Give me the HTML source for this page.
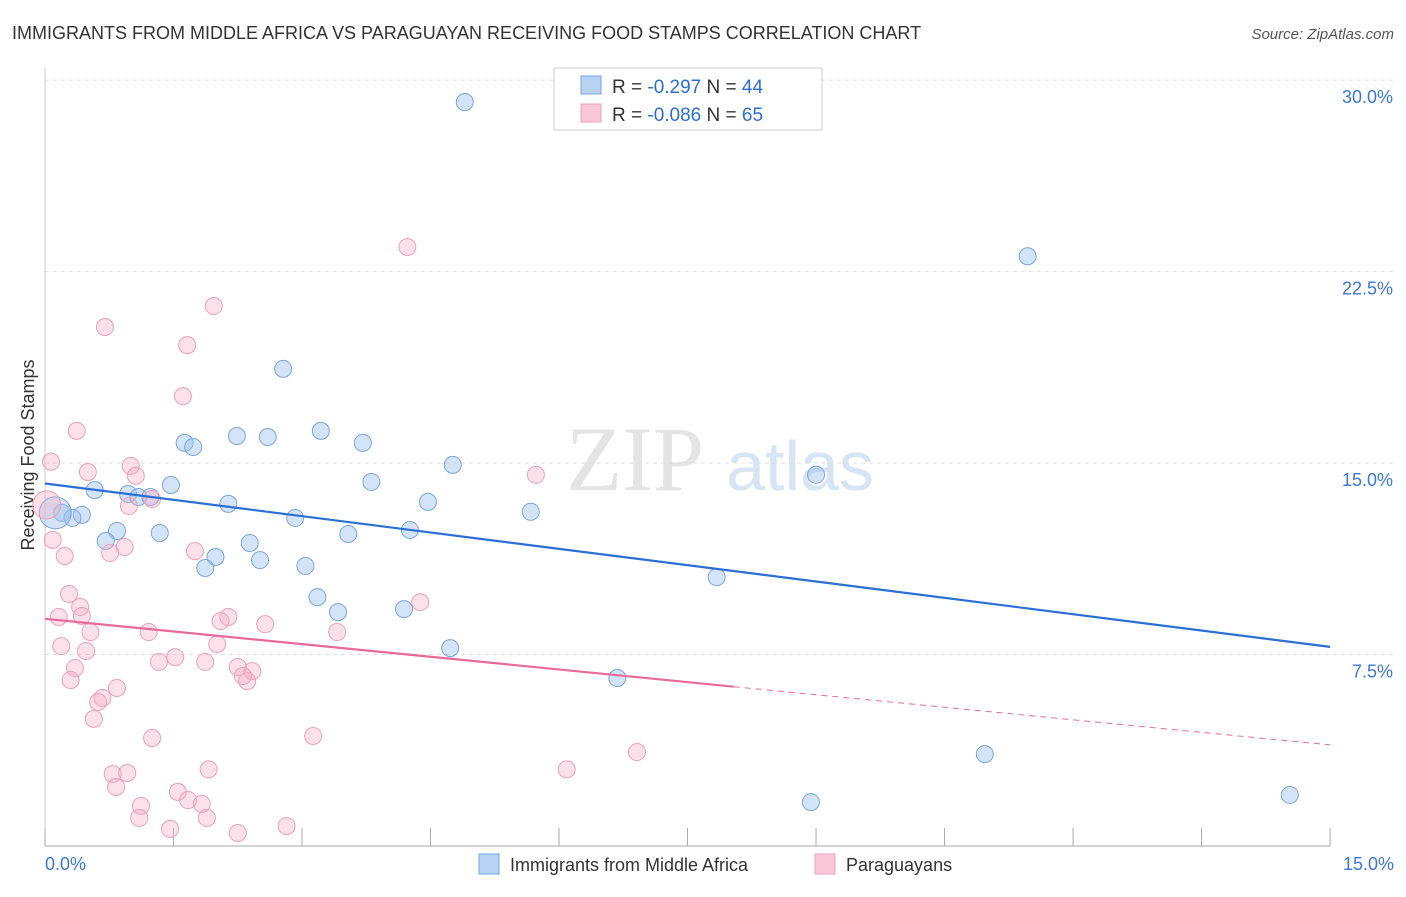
<!DOCTYPE html>
<html><head><meta charset="utf-8"><style>
body{margin:0;background:#fff;font-family:"Liberation Sans",sans-serif}
</style></head><body>
<svg id="c" width="1406" height="892" xmlns="http://www.w3.org/2000/svg">
<text x="12" y="39" font-size="18" fill="#333">IMMIGRANTS FROM MIDDLE AFRICA VS PARAGUAYAN RECEIVING FOOD STAMPS CORRELATION CHART</text>
<text x="1394" y="39" font-size="15" fill="#555" font-style="italic" text-anchor="end">Source: ZipAtlas.com</text>
<text x="635" y="490" font-size="92" fill="#e4e4e4" font-family="Liberation Serif,serif" text-anchor="middle">ZIP</text>
<text x="800" y="490" font-size="70" fill="#d6e4f4" text-anchor="middle">atlas</text>
<text transform="translate(34,455) rotate(-90)" font-size="18" fill="#333" text-anchor="middle">Receiving Food Stamps</text>
<g id="grid"></g><g id="marks"></g>
<rect x="554" y="68" width="268" height="62" fill="#fff" stroke="#ccc"/>
<rect x="581" y="76" width="20" height="18" fill="#b8d2f4" stroke="#7aa6e0"/>
<rect x="581" y="104" width="20" height="18" fill="#f9c8d8" stroke="#eea0b8"/>
<text x="612" y="93" font-size="19" fill="#333">R = <tspan fill="#2b6fd6">-0.297</tspan>   N = <tspan fill="#2b6fd6">44</tspan></text>
<text x="612" y="121" font-size="19" fill="#333">R = <tspan fill="#2b6fd6">-0.086</tspan>   N = <tspan fill="#2b6fd6">65</tspan></text>
<rect x="479" y="854" width="20" height="20" fill="#b8d2f4" stroke="#7aa6e0"/>
<text x="510" y="871" font-size="18" fill="#333">Immigrants from Middle Africa</text>
<rect x="815" y="854" width="20" height="20" fill="#f9c8d8" stroke="#eea0b8"/>
<text x="846" y="871" font-size="18" fill="#333">Paraguayans</text>
</svg>
<script>
const yTicks=[7.5,15,22.5,30];
const yTickLabels=["7.5%","15.0%","22.5%","30.0%"];
const blueX=[4.9,11.47,2.78,3.22,1.63,1.73,2.24,2.6,3.71,4.76,9.0,3.81,1.47,0.58,0.97,1.09,1.23,2.14,4.47,5.67,0.2,0.43,0.32,2.92,0.84,1.34,3.54,4.26,0.71,2.39,1.99,2.51,1.87,3.04,7.84,3.18,3.42,4.19,4.73,6.68,10.97,8.94,14.53,0.12];
const blueY=[29.14,23.1,18.69,16.26,15.79,15.63,16.06,16.02,15.79,14.93,14.54,14.26,14.14,13.94,13.79,13.67,13.67,13.4,13.48,13.09,13.05,12.97,12.85,12.85,12.34,12.26,12.22,12.38,11.95,11.87,11.32,11.2,10.89,10.97,10.53,9.75,9.16,9.28,7.75,6.58,3.6,1.72,2.0,13.05];
const pinkX=[4.23,1.97,0.7,1.66,1.61,0.37,0.07,0.5,1.0,1.06,5.73,1.25,0.98,0.02,0.09,0.23,0.93,0.76,1.75,0.28,0.41,0.16,0.43,2.14,2.05,2.57,4.38,0.53,1.21,3.41,0.19,2.01,0.48,1.52,1.33,1.87,0.35,2.25,2.42,2.31,2.36,0.3,0.84,0.67,0.62,0.57,1.25,3.13,6.91,0.79,0.96,1.91,6.09,0.83,1.55,1.67,1.83,1.12,1.1,1.89,1.46,2.25,2.82];
const pinkY=[23.46,21.15,20.33,19.62,17.62,16.26,15.05,14.65,14.89,14.5,14.54,13.59,13.32,13.36,11.99,11.36,11.71,11.48,11.55,9.87,9.36,8.97,9.01,8.97,8.81,8.69,9.55,8.38,8.38,8.38,7.83,7.91,7.64,7.4,7.21,7.21,6.97,7.01,6.85,6.66,6.46,6.5,6.19,5.8,5.64,4.98,4.23,4.31,3.68,2.82,2.86,3.0,3.0,2.31,2.12,1.8,1.65,1.57,1.1,1.1,0.67,0.51,0.78];
const blueTrend=[[0,14.2],[15,7.8]];
const pinkTrendSolid=[[0,8.9],[8.04,6.24]];
const pinkTrendDash=[[8.04,6.24],[15,3.96]];
const ns="http://www.w3.org/2000/svg";
const X=v=>45+v*85.67, Y=v=>846-v*25.53;
function mk(tag,attrs,parent){const e=document.createElementNS(ns,tag);for(const k in attrs)e.setAttribute(k,attrs[k]);parent.appendChild(e);return e;}
const g=document.getElementById('grid'),m=document.getElementById('marks');
yTicks.forEach((t,i)=>{
 const l=mk('line',{x1:45,x2:1394,y1:Y(t),y2:Y(t),stroke:'#ddd','stroke-dasharray':'4,4'},g);
 
 
 const tx=mk('text',{x:1393,y:Y(t)+23,'font-size':18,fill:'#3b78d8','text-anchor':'end'},g);
 tx.textContent=yTickLabels[i];
 
 
});
const ax=mk('line',{x1:45,x2:1330,y1:846,y2:846,stroke:'#aaa'},g);


const ay=mk('line',{x1:45,x2:45,y1:68,y2:846,stroke:'#ccc'},g);


for(let i=0;i<=10;i++){const t=mk('line',{x1:X(i*1.5),x2:X(i*1.5),y1:828,y2:846,stroke:'#aaa'},g);
 
 }
[["0.0%",45,"start"],["15.0%",1394,"end"]].forEach(a=>{const t=mk('text',{x:a[1],y:870,'font-size':18,fill:'#3b78d8','text-anchor':a[2]},g);t.textContent=a[0];
 
 });
blueX.forEach((x,i)=>{const c=mk('circle',{cx:X(x),cy:Y(blueY[i]),r:i==blueX.length-1?16:8.5,fill:'rgba(160,196,240,0.45)',stroke:'#7aa6e0','stroke-width':1},m);
 
 });
pinkX.forEach((x,i)=>{const c=mk('circle',{cx:X(x),cy:Y(pinkY[i]),r:i==13?14:8.5,fill:'rgba(245,170,195,0.35)',stroke:'#eea0b8','stroke-width':1},m);
 
 });
function ln(p,col,dash,name){const l=mk('line',{x1:X(p[0][0]),y1:Y(p[0][1]),x2:X(p[1][0]),y2:Y(p[1][1]),stroke:col,'stroke-width':dash?1:2.2,'stroke-dasharray':dash?'6,5':'none'},m);
 
 }
ln(blueTrend,'#2b6fd6',false,'blue-trend-line');
ln(pinkTrendSolid,'#e86a98',false,'pink-trend-line');
ln(pinkTrendDash,'#e86a98',true,'pink-trend-extension');
</script>
</body></html>
